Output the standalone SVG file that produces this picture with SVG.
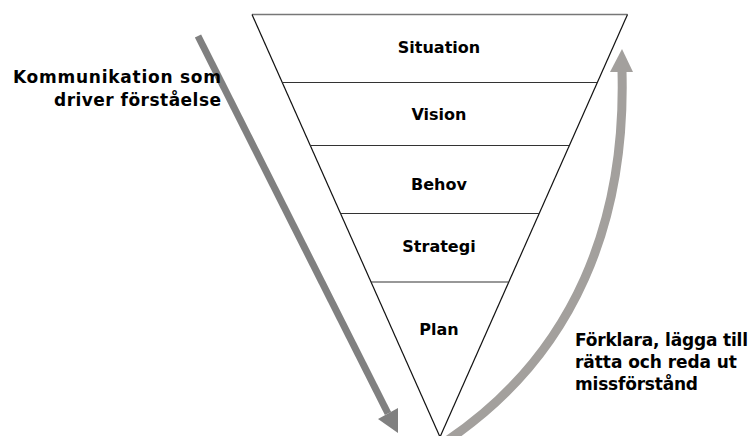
<svg xmlns="http://www.w3.org/2000/svg" width="754" height="436" viewBox="0 0 754 436">
<style>
.lbl{font-family:"DejaVu Sans","Liberation Sans",sans-serif;font-weight:bold;font-size:16px;fill:#000;text-anchor:middle}
.side{font-family:"DejaVu Sans","Liberation Sans",sans-serif;font-weight:bold;font-size:17px;fill:#000}
.edge{stroke:#111;stroke-width:1.2;fill:none}
.div{stroke:#333;stroke-width:1.2;fill:none}
</style>
<rect width="754" height="436" fill="#fff"/>
<g id="funnel">
<line x1="252" y1="14.5" x2="627.5" y2="14.5" stroke="#777" stroke-width="1.6"/>
<line class="edge" x1="252" y1="14.5" x2="440" y2="437"/>
<line class="edge" x1="627.5" y1="14.5" x2="440" y2="437"/>
<line class="div" x1="282.3" y1="82.5" x2="597.3" y2="82.5"/>
<line class="div" x1="310" y1="145.5" x2="569.3" y2="145.5"/>
<line class="div" x1="340.5" y1="213.5" x2="539" y2="213.5"/>
<line class="div" x1="371" y1="282" x2="508.5" y2="282"/>
</g>
<g id="situation"><text class="lbl" x="439" y="53">Situation</text></g>
<g id="vision"><text class="lbl" x="439" y="120">Vision</text></g>
<g id="behov"><text class="lbl" x="439" y="190">Behov</text></g>
<g id="strategi"><text class="lbl" x="439" y="252">Strategi</text></g>
<g id="plan"><text class="lbl" x="439" y="335">Plan</text></g>
<g id="connectors">
<line x1="198" y1="36" x2="388" y2="413.5" stroke="#808080" stroke-width="7"/>
<polygon points="378,419 398,408 398,433" fill="#808080"/>
<path d="M448,440 C576,353 626,220 622,71" stroke="#a3a09d" stroke-width="9" fill="none"/>
<polygon points="622,49 610,72 633,72" fill="#a3a09d"/>
</g>
<g id="left-label">
<text class="side" x="221" y="83" text-anchor="end" textLength="208">Kommunikation som</text>
<text class="side" x="221" y="106" text-anchor="end" textLength="167">driver förståelse</text>
</g>
<g id="right-label">
<text class="side" x="575" y="346" textLength="173">Förklara, lägga till</text>
<text class="side" x="575" y="368" textLength="162">rätta och reda ut</text>
<text class="side" x="575" y="390" textLength="123">missförstånd</text>
</g>
</svg>
